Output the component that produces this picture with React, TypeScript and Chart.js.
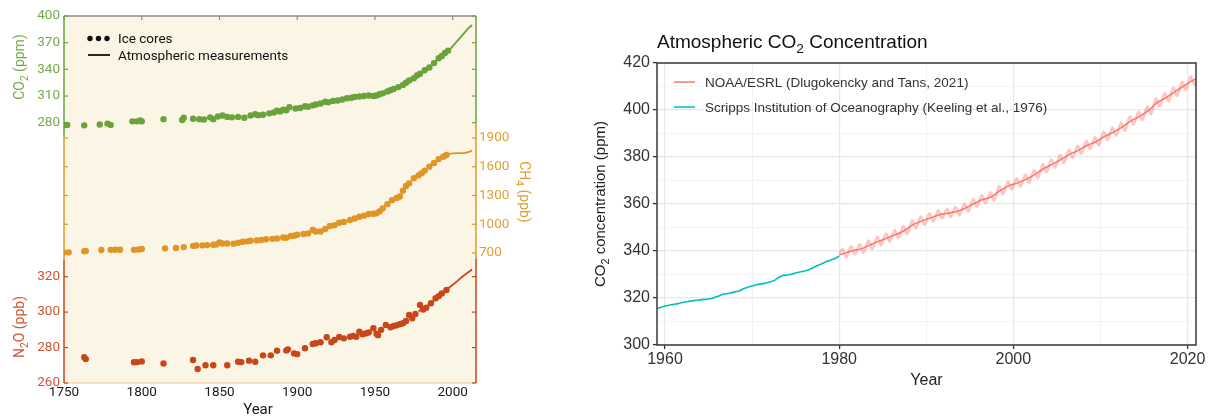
import React, { useEffect, useRef } from "react";
import { Chart, registerables } from "chart.js";
Chart.register(...registerables);

// ================= LEFT CHART DATA =================
const leftYearTicks = [1750, 1800, 1850, 1900, 1950, 2000];
const co2Ticks = [280, 310, 340, 370, 400];
const ch4Ticks = [700, 1000, 1300, 1600, 1900];
const n2oTicks = [260, 280, 300, 320];

const co2IceYears = [
  1750, 1752, 1763, 1773, 1778, 1780, 1794, 1797, 1799, 1800,
  1814, 1826, 1827, 1833, 1837, 1840, 1844, 1846, 1849, 1852,
  1855, 1858, 1862, 1866, 1870, 1873, 1875, 1878, 1882, 1885,
  1887, 1889, 1891, 1893, 1895, 1899, 1902, 1905, 1907, 1910,
  1912, 1915, 1918, 1920, 1923, 1926, 1929, 1932, 1935, 1937,
  1940, 1943, 1946, 1949, 1951, 1953, 1955, 1958, 1960, 1962,
  1965, 1968, 1970, 1972, 1975, 1977, 1979, 1982, 1985, 1988,
  1991, 1993, 1995, 1997,
];
const co2IceValues = [
  277, 277.5, 277, 278, 279, 277.5, 281.5, 281.5, 282.5, 281.5,
  284, 283, 285.5, 284.5, 284, 283.5, 286, 284, 287, 288,
  286.5, 286, 286.5, 285.5, 288, 289.5, 288.5, 289, 290.5, 291.5,
  293.5, 292.5, 294.5, 294, 297.5, 296, 296.5, 298.5, 298, 299.5,
  300.5, 301.5, 303.5, 303, 304.5, 305, 306, 307.5, 308, 309,
  309.5, 310, 310.5, 310, 310.5, 312, 313, 315, 316.5, 318,
  320, 322.5, 325, 327.5, 330, 333, 335, 339, 342, 347,
  352.5, 355, 358.5, 361,
];
const co2AtmYears = [1958, 1962, 1966, 1970, 1974, 1978, 1982, 1986, 1990, 1994, 1998, 2002, 2006, 2010, 2012.5];
const co2AtmValues = [315, 317.5, 320.5, 325, 329.5, 334.5, 339, 344, 350.5, 356, 362, 370, 378, 386, 390];

const ch4IceYears = [
  1750, 1753, 1763, 1764, 1774, 1780, 1783, 1786, 1795, 1798,
  1800, 1815, 1822, 1827, 1833, 1835, 1839, 1842, 1846, 1848,
  1850, 1852, 1855, 1859, 1862, 1865, 1868, 1870, 1874, 1877,
  1880, 1884, 1887, 1891, 1893, 1896, 1898, 1900, 1904, 1907,
  1910, 1912, 1915, 1918, 1921, 1924, 1927, 1930, 1934, 1937,
  1940, 1943, 1946, 1949, 1951, 1953, 1955, 1958, 1961, 1964,
  1966, 1968, 1970, 1972, 1975, 1978, 1980, 1982, 1985, 1988,
  1991, 1994, 1996,
];
const ch4IceValues = [
  707, 707, 718, 722, 731, 733, 735, 735, 733, 737,
  742, 749, 752, 762, 775, 778, 780, 783, 787, 790,
  810, 800, 800, 798, 808, 818, 822, 828, 832, 836,
  843, 848, 852, 862, 860, 877, 880, 891, 898, 905,
  940, 925, 924, 950, 982, 990, 1016, 1025, 1044, 1060,
  1079, 1090, 1107, 1110, 1114, 1135, 1166, 1210, 1250, 1275,
  1290, 1350, 1400, 1427, 1480, 1510, 1532, 1560, 1601, 1640,
  1680, 1705, 1723,
];
const ch4AtmYears = [1984, 1988, 1992, 1996, 2000, 2004, 2007, 2010, 2012.5];
const ch4AtmValues = [1590, 1645, 1695, 1725, 1740, 1742, 1742, 1752, 1768];

const n2oIceYears = [
  1763, 1764, 1795, 1797, 1800, 1814, 1833, 1836, 1841, 1846,
  1855, 1862, 1864, 1869, 1873, 1878, 1883, 1887, 1893, 1894,
  1898, 1900, 1905, 1910, 1912, 1915, 1919, 1922, 1924, 1927,
  1930, 1934, 1936, 1938, 1940, 1942, 1944, 1946, 1949, 1951,
  1952, 1954, 1957, 1960, 1962, 1964, 1966, 1968, 1970, 1972,
  1974, 1976, 1979, 1981, 1983, 1986, 1989, 1991, 1993, 1996,
];
const n2oIceValues = [
  274.5, 273.5, 271.7, 271.8, 272.2, 271, 273, 267.9, 270, 270,
  270, 272, 271.8, 272.6, 272, 275.6, 275.6, 278.2, 278.4, 279,
  276.7, 276.3, 279.6, 282, 282.4, 283, 285.8, 283, 284.3, 286,
  285.2, 286.1, 286.5, 286.1, 289, 287.5, 288, 288.5, 290.9, 287.8,
  287, 290, 292.7, 291.5, 292.2, 292.6, 293.2, 293.7, 295, 298.4,
  296.5, 299, 304, 301.5, 302.5, 305, 307.8, 309, 310.5, 312.5,
];
const n2oAtmYears = [1978, 1982, 1986, 1990, 1994, 1998, 2002, 2006, 2010, 2012.5];
const n2oAtmValues = [300.5, 302.5, 305, 308, 311, 314, 316.8, 319.8, 322.5, 324];

// axis value ranges (so that the three panels stack as in the figure)
const co2Range = [-12.8, 400];
const ch4Range = [-656, 3173];
const n2oRange = [260, 467.1];
// coloured axis-line spans (in each gas's own units)
const co2Span = { left: [264, 400], right: [280, 400] };
const ch4Span = { left: [627, 1910], right: [637, 2057] };
const n2oSpan = { left: [260, 329.4], right: [260, 330] };

const leftLegendLabels = ["Ice cores", "Atmospheric measurements"];
const co2Title = [{ t: "CO" }, { t: "2", sub: true }, { t: " (ppm)" }];
const ch4Title = [{ t: "CH" }, { t: "4", sub: true }, { t: " (ppb)" }];
const n2oTitle = [{ t: "N" }, { t: "2", sub: true }, { t: "O (ppb)" }];
const leftXTitle = "Year";

// ================= RIGHT CHART DATA =================
const rightXTicks = [1960, 1970, 1980, 1990, 2000, 2010, 2020];
const rightYTicks = [300, 310, 320, 330, 340, 350, 360, 370, 380, 390, 400, 410, 420];

const scrippsYears = [
  1959, 1959.5, 1960, 1960.5, 1961, 1961.5, 1962, 1962.5, 1963, 1963.5,
  1964, 1964.5, 1965, 1965.5, 1966, 1966.5, 1967, 1967.5, 1968, 1968.5,
  1969, 1969.5, 1970, 1970.5, 1971, 1971.5, 1972, 1972.5, 1973, 1973.5,
  1974, 1974.5, 1975, 1975.5, 1976, 1976.5, 1977, 1977.5, 1978, 1978.5,
  1979, 1979.5, 1980,
];
const scrippsValues = [
  315.6, 316.0, 316.6, 316.9, 317.3, 317.6, 318.1, 318.4, 318.7, 319.0,
  319.2, 319.4, 319.6, 319.9, 320.6, 321.4, 321.8, 322.1, 322.6, 323.0,
  323.9, 324.6, 325.1, 325.6, 326.0, 326.3, 326.8, 327.4, 328.6, 329.6,
  329.8, 330.1, 330.6, 331.1, 331.5, 332.0, 332.9, 333.8, 334.6, 335.4,
  336.1, 336.8, 337.8,
];

const noaaTrendYears = [
  1980, 1980.5, 1981.5, 1982.5, 1983.5, 1984.5, 1985.5, 1986.5, 1987.5, 1988.5,
  1989.5, 1990.5, 1991.5, 1992.5, 1993.5, 1994.5, 1995.5, 1996.5, 1997.5, 1998.5,
  1999.5, 2000.5, 2001.5, 2002.5, 2003.5, 2004.5, 2005.5, 2006.5, 2007.5, 2008.5,
  2009.5, 2010.5, 2011.5, 2012.5, 2013.5, 2014.5, 2015.5, 2016.5, 2017.5, 2018.5,
  2019.5, 2020.5, 2020.95,
];
const noaaTrendValues = [
  338.3, 338.9, 340.1, 340.9, 342.5, 344.1, 345.5, 347.0, 348.7, 351.2,
  352.8, 354.1, 355.4, 356.1, 356.8, 358.3, 360.2, 361.9, 363.1, 365.7,
  367.8, 369.0, 370.6, 372.6, 375.1, 377.0, 379.0, 381.2, 382.9, 385.0,
  386.5, 388.8, 390.6, 392.7, 395.4, 397.3, 399.7, 403.1, 405.2, 407.6,
  410.1, 412.4, 413.2,
];

const noaaMonthlyYears = [
  1980,
  1980.38, 1980.8, 1981.38, 1981.8, 1982.38, 1982.8, 1983.38, 1983.8, 1984.38, 1984.8,
  1985.38, 1985.8, 1986.38, 1986.8, 1987.38, 1987.8, 1988.38, 1988.8, 1989.38, 1989.8,
  1990.38, 1990.8, 1991.38, 1991.8, 1992.38, 1992.8, 1993.38, 1993.8, 1994.38, 1994.8,
  1995.38, 1995.8, 1996.38, 1996.8, 1997.38, 1997.8, 1998.38, 1998.8, 1999.38, 1999.8,
  2000.38, 2000.8, 2001.38, 2001.8, 2002.38, 2002.8, 2003.38, 2003.8, 2004.38, 2004.8,
  2005.38, 2005.8, 2006.38, 2006.8, 2007.38, 2007.8, 2008.38, 2008.8, 2009.38, 2009.8,
  2010.38, 2010.8, 2011.38, 2011.8, 2012.38, 2012.8, 2013.38, 2013.8, 2014.38, 2014.8,
  2015.38, 2015.8, 2016.38, 2016.8, 2017.38, 2017.8, 2018.38, 2018.8, 2019.38, 2019.8,
  2020.38, 2020.8,
  2020.95,
];
const noaaMonthlyValues = [
  339.0,
  340.8, 337.3, 342.0, 338.5, 342.8, 339.3, 344.4, 340.9, 346.0, 342.5,
  347.4, 343.9, 348.9, 345.4, 350.6, 347.1, 353.1, 349.6, 354.7, 351.2,
  356.0, 352.5, 357.3, 353.8, 358.0, 354.5, 358.7, 355.2, 360.2, 356.7,
  362.1, 358.6, 363.8, 360.3, 365.0, 361.5, 367.6, 364.1, 369.7, 366.2,
  370.9, 367.4, 372.5, 369.0, 374.5, 371.0, 377.0, 373.5, 378.9, 375.4,
  380.9, 377.4, 383.1, 379.6, 384.8, 381.3, 386.9, 383.4, 388.4, 384.9,
  390.7, 387.2, 392.5, 389.0, 394.6, 391.1, 397.3, 393.8, 399.2, 395.7,
  401.6, 398.1, 405.0, 401.5, 407.1, 403.6, 409.5, 406.0, 412.0, 408.5,
  414.3, 410.8,
  412.4,
];

const noaaLabel = "NOAA/ESRL (Dlugokencky and Tans, 2021)";
const scrippsLabel = "Scripps Institution of Oceanography (Keeling et al., 1976)";
const rightTitle = [{ t: "Atmospheric CO" }, { t: "2", sub: true }, { t: " Concentration" }];
const rightYTitle = [{ t: "CO" }, { t: "2", sub: true }, { t: " concentration (ppm)" }];
const rightXTitle = "Year";

// ================= STYLE =================
const LFONT = "Roboto, 'Noto Sans', sans-serif";
const RFONT = "'Liberation Sans', Arial, Helvetica, sans-serif";
const CREAM = "#fbf5e5";
const GREEN = "#6aa23c";
const GREEN_T = "#75ab4a";
const ORANGE = "#df9626";
const ORANGE_T = "#e39e30";
const RED = "#c8461a";
const RED_T = "#cf5430";
const SALMON = "#F8766D";
const CYAN = "#00BFC4";

type Part = { t: string; sub?: boolean };

function drawRich(
  ctx: CanvasRenderingContext2D,
  parts: Part[],
  x: number,
  y: number,
  size: number,
  family: string,
  color: string,
  align: "left" | "center" | "right",
  rot = 0
) {
  ctx.save();
  ctx.translate(x, y);
  if (rot) ctx.rotate(rot);
  ctx.fillStyle = color;
  ctx.textBaseline = "alphabetic";
  ctx.textAlign = "left";
  const subSize = size * 0.72;
  let total = 0;
  const widths = parts.map((p) => {
    ctx.font = `${p.sub ? subSize : size}px ${family}`;
    const w = ctx.measureText(p.t).width;
    total += w;
    return w;
  });
  let cx = align === "center" ? -total / 2 : align === "right" ? -total : 0;
  const base = size * 0.35;
  parts.forEach((p, i) => {
    ctx.font = `${p.sub ? subSize : size}px ${family}`;
    ctx.fillText(p.t, cx, base + (p.sub ? size * 0.28 : 0));
    cx += widths[i];
  });
  ctx.restore();
}

function seg(ctx: CanvasRenderingContext2D, x1: number, y1: number, x2: number, y2: number) {
  ctx.beginPath();
  ctx.moveTo(x1, y1);
  ctx.lineTo(x2, y2);
  ctx.stroke();
}

const toPts = (xs: number[], ys: number[]) => xs.map((x, i) => ({ x, y: ys[i] }));

const leftPlugin = {
  id: "leftDecor",
  beforeDraw(chart: any) {
    const { ctx, chartArea: a } = chart;
    ctx.save();
    ctx.fillStyle = CREAM;
    ctx.fillRect(a.left, a.top, a.right - a.left, a.bottom - a.top);
    ctx.restore();
  },
  afterDraw(chart: any) {
    const { ctx, chartArea: a, scales } = chart;
    const xs = scales.x;
    const yC = scales.yCO2;
    const yM = scales.yCH4;
    const yN = scales.yN2O;
    ctx.save();
    ctx.strokeStyle = "#8c8c8c";
    ctx.lineWidth = 1.5;
    seg(ctx, a.left, a.top, a.right, a.top);
    ctx.lineWidth = 1.2;
    leftYearTicks.forEach((v) => {
      const px = xs.getPixelForValue(v);
      seg(ctx, px, a.top, px, a.top + 4);
    });
    ctx.strokeStyle = "#ebc99c";
    ctx.lineWidth = 1;
    seg(ctx, a.left, a.bottom, a.right, a.bottom);

    const axis = (
      scale: any,
      span: { left: number[]; right: number[] },
      ticks: number[],
      col: string,
      tcol: string,
      labelSide: "left" | "right"
    ) => {
      ctx.strokeStyle = col;
      ctx.lineWidth = 1.5;
      seg(ctx, a.left, scale.getPixelForValue(span.left[1]), a.left, scale.getPixelForValue(span.left[0]));
      seg(ctx, a.right, scale.getPixelForValue(span.right[1]), a.right, scale.getPixelForValue(span.right[0]));
      ctx.lineWidth = 1.2;
      ctx.font = `13.5px ${LFONT}`;
      ctx.fillStyle = tcol;
      ctx.textBaseline = "middle";
      ticks.forEach((v) => {
        const py = scale.getPixelForValue(v);
        seg(ctx, a.left, py, a.left + 4, py);
        seg(ctx, a.right - 4, py, a.right, py);
        if (labelSide === "left") {
          ctx.textAlign = "right";
          ctx.fillText(String(v), a.left - 4, py);
        } else {
          ctx.textAlign = "left";
          ctx.fillText(String(v), a.right + 3, py);
        }
      });
    };
    axis(yC, co2Span, co2Ticks, GREEN, GREEN_T, "left");
    axis(yM, ch4Span, ch4Ticks, ORANGE, ORANGE_T, "right");
    axis(yN, n2oSpan, n2oTicks, RED, RED_T, "left");

    drawRich(ctx, co2Title, 19, 67, 14, LFONT, GREEN_T, "center", -Math.PI / 2);
    drawRich(ctx, n2oTitle, 19, 327, 14, LFONT, RED_T, "center", -Math.PI / 2);
    drawRich(ctx, ch4Title, 525, 192, 14, LFONT, ORANGE_T, "center", Math.PI / 2);
    drawRich(ctx, [{ t: leftXTitle }], 258, 409, 15, LFONT, "#1a1a1a", "center");

    ctx.fillStyle = "#111";
    [90, 98.5, 107].forEach((cx) => {
      ctx.beginPath();
      ctx.arc(cx, 38.5, 2.7, 0, Math.PI * 2);
      ctx.fill();
    });
    ctx.strokeStyle = "#111";
    ctx.lineWidth = 1.8;
    seg(ctx, 88, 55, 110, 55);
    drawRich(ctx, [{ t: leftLegendLabels[0] }], 118, 38, 13.5, LFONT, "#111", "left");
    drawRich(ctx, [{ t: leftLegendLabels[1] }], 118, 55, 13.5, LFONT, "#111", "left");
    ctx.restore();
  },
};

const rightPlugin = {
  id: "rightDecor",
  afterDraw(chart: any) {
    const { ctx, chartArea: a } = chart;
    ctx.save();
    ctx.strokeStyle = "#3a3a3a";
    ctx.lineWidth = 1.5;
    ctx.strokeRect(a.left, a.top, a.right - a.left, a.bottom - a.top);
    drawRich(ctx, rightTitle, a.left, 41, 19, RFONT, "#111", "left");
    drawRich(ctx, rightYTitle, 60, (a.top + a.bottom) / 2, 15, RFONT, "#222", "center", -Math.PI / 2);
    drawRich(ctx, [{ t: rightXTitle }], (a.left + a.right) / 2, 379, 16, RFONT, "#222", "center");
    const items = [
      { label: noaaLabel, color: SALMON, y: 82 },
      { label: scrippsLabel, color: CYAN, y: 107 },
    ];
    items.forEach((it) => {
      ctx.strokeStyle = it.color;
      ctx.lineWidth = 1.5;
      seg(ctx, a.left + 17, it.y, a.left + 38, it.y);
      drawRich(ctx, [{ t: it.label }], a.left + 48, it.y, 13.5, RFONT, "#333", "left");
    });
    ctx.restore();
  },
};

function LeftChart() {
  const ref = useRef<HTMLCanvasElement>(null);
  useEffect(() => {
    if (!ref.current) return;
    const dot = (color: string) => ({
      showLine: false,
      pointRadius: 3.2,
      pointBackgroundColor: color,
      pointBorderWidth: 0,
      borderColor: color,
    });
    const line = (color: string) => ({
      borderColor: color,
      borderWidth: 1.8,
      pointRadius: 0,
      tension: 0.3,
    });
    const chart = new Chart(ref.current, {
      type: "line",
      data: {
        datasets: [
          { label: "CO2 atm", data: toPts(co2AtmYears, co2AtmValues), yAxisID: "yCO2", ...line(GREEN) },
          { label: "CO2 ice", data: toPts(co2IceYears, co2IceValues), yAxisID: "yCO2", ...dot(GREEN) },
          { label: "CH4 atm", data: toPts(ch4AtmYears, ch4AtmValues), yAxisID: "yCH4", ...line(ORANGE) },
          { label: "CH4 ice", data: toPts(ch4IceYears, ch4IceValues), yAxisID: "yCH4", ...dot(ORANGE) },
          { label: "N2O atm", data: toPts(n2oAtmYears, n2oAtmValues), yAxisID: "yN2O", ...line(RED) },
          { label: "N2O ice", data: toPts(n2oIceYears, n2oIceValues), yAxisID: "yN2O", ...dot(RED) },
        ] as any,
      },
      options: {
        responsive: false,
        animation: false,
        layout: { padding: { left: 64, right: 64, top: 16, bottom: 0 } },
        plugins: { legend: { display: false }, tooltip: { enabled: false } },
        scales: {
          x: {
            type: "linear",
            min: 1750,
            max: 2015,
            grid: { display: false, drawTicks: false },
            border: { display: false },
            afterBuildTicks: (s: any) => {
              s.ticks = leftYearTicks.map((v) => ({ value: v }));
            },
            afterFit: (s: any) => {
              s.height = 33;
            },
            ticks: {
              padding: 2,
              color: "#1a1a1a",
              font: { family: LFONT, size: 13.5 },
              maxRotation: 0,
              callback: (v: any) => String(v),
            },
          },
          yCO2: { type: "linear", display: false, min: co2Range[0], max: co2Range[1] },
          yCH4: { type: "linear", display: false, min: ch4Range[0], max: ch4Range[1] },
          yN2O: { type: "linear", display: false, min: n2oRange[0], max: n2oRange[1] },
        },
      } as any,
      plugins: [leftPlugin],
    });
    return () => chart.destroy();
  }, []);
  return <canvas ref={ref} width={540} height={416} style={{ display: "block" }} />;
}

function RightChart() {
  const ref = useRef<HTMLCanvasElement>(null);
  useEffect(() => {
    if (!ref.current) return;
    const chart = new Chart(ref.current, {
      type: "line",
      data: {
        datasets: [
          {
            label: noaaLabel + " trend",
            data: toPts(noaaTrendYears, noaaTrendValues),
            borderColor: SALMON,
            borderWidth: 1.5,
            pointRadius: 0,
            tension: 0.2,
            order: 0,
          },
          {
            label: noaaLabel,
            data: toPts(noaaMonthlyYears, noaaMonthlyValues),
            borderColor: "rgba(248,118,109,0.42)",
            borderWidth: 2.6,
            pointRadius: 0,
            cubicInterpolationMode: "monotone",
            order: 1,
          },
          {
            label: scrippsLabel,
            data: toPts(scrippsYears, scrippsValues),
            borderColor: CYAN,
            borderWidth: 1.6,
            pointRadius: 0,
            tension: 0.2,
            order: 2,
          },
        ] as any,
      },
      options: {
        responsive: false,
        animation: false,
        layout: { padding: { left: 40, right: 18, top: 63, bottom: 0 } },
        plugins: { legend: { display: false }, tooltip: { enabled: false } },
        scales: {
          x: {
            type: "linear",
            min: 1959.08,
            max: 2020.97,
            afterBuildTicks: (s: any) => {
              s.ticks = rightXTicks.map((v) => ({ value: v }));
            },
            afterFit: (s: any) => {
              s.height = 71;
            },
            border: { display: false },
            grid: {
              color: (c: any) => (c.tick && c.tick.value % 20 === 0 ? "#e8e8e8" : "#efefef"),
              lineWidth: (c: any) => (c.tick && c.tick.value % 20 === 0 ? 1.2 : 0.8),
              tickColor: (c: any) => (c.tick && c.tick.value % 20 === 0 ? "#333" : "rgba(0,0,0,0)"),
              tickLength: 4,
              tickWidth: 1.3,
            },
            ticks: {
              padding: 1,
              color: "#333",
              font: { family: RFONT, size: 16 },
              maxRotation: 0,
              autoSkip: false,
              callback: (v: any) => (v % 20 === 0 ? String(v) : ""),
            },
          },
          y: {
            type: "linear",
            min: 300,
            max: 420,
            afterBuildTicks: (s: any) => {
              s.ticks = rightYTicks.map((v) => ({ value: v }));
            },
            afterFit: (s: any) => {
              s.width = 77;
            },
            border: { display: false },
            grid: {
              color: (c: any) => (c.tick && c.tick.value % 20 === 0 ? "#e8e8e8" : "#f1f1f1"),
              lineWidth: (c: any) => (c.tick && c.tick.value % 20 === 0 ? 1.2 : 0.8),
              tickColor: (c: any) => (c.tick && c.tick.value % 20 === 0 ? "#333" : "rgba(0,0,0,0)"),
              tickLength: 4,
              tickWidth: 1.3,
            },
            ticks: {
              padding: 3,
              color: "#333",
              font: { family: RFONT, size: 16 },
              autoSkip: false,
              callback: (v: any) => (v % 20 === 0 ? String(v) : ""),
            },
          },
        },
      } as any,
      plugins: [rightPlugin],
    });
    return () => chart.destroy();
  }, []);
  return <canvas ref={ref} width={674} height={416} style={{ display: "block" }} />;
}

export default function App() {
  return (
    <div
      style={{
        position: "fixed",
        left: 0,
        top: 0,
        width: 1214,
        height: 416,
        background: "#ffffff",
        overflow: "hidden",
      }}
    >
      <div style={{ position: "absolute", left: 0, top: 0, width: 540, height: 416 }}>
        <LeftChart />
      </div>
      <div style={{ position: "absolute", left: 540, top: 0, width: 674, height: 416 }}>
        <RightChart />
      </div>
    </div>
  );
}
